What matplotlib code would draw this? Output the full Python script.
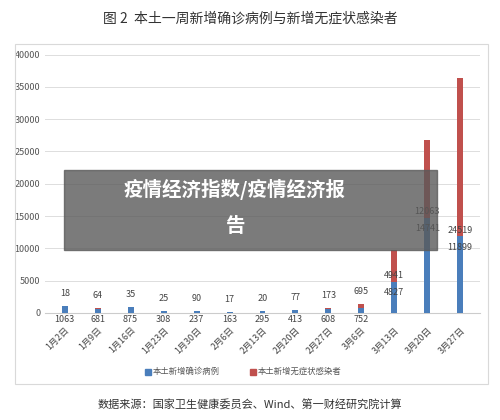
import matplotlib
matplotlib.use("Agg")
import matplotlib.pyplot as plt
from matplotlib.patches import Rectangle

plt.rcParams['font.family'] = ['Noto Sans CJK SC', 'DejaVu Sans']

dates = ["1月2日","1月9日","1月16日","1月23日","1月30日","2月6日","2月13日","2月20日","2月27日","3月6日","3月13日","3月20日","3月27日"]
confirmed = [1063,681,875,308,237,163,295,413,608,752,4827,14741,11899]
asymptomatic = [18,64,35,25,90,17,20,77,173,695,4941,12063,24519]

blue = "#4a7ebb"; red = "#c0504d"
fig = plt.figure(figsize=(5, 4.2), dpi=100)
fig.patch.set_facecolor("white")
ax = fig.add_axes([0.09, 0.255, 0.87, 0.615])
x = list(range(len(dates)))
ax.bar(x, confirmed, width=0.18, color=blue, zorder=3)
ax.bar(x, asymptomatic, width=0.18, bottom=confirmed, color=red, zorder=3)
ax.set_ylim(0, 40000)
ax.set_xlim(-0.6, len(dates) - 0.4)
ax.set_yticks(range(0, 40001, 5000))
ax.tick_params(axis='y', labelsize=6.5, length=0, colors="#555555")
ax.tick_params(axis='x', length=0, labelsize=6.5, colors="#444444", pad=9)
ax.set_xticks(x)
ax.set_xticklabels(dates, rotation=45, ha='right', rotation_mode='anchor')
ax.grid(axis='y', color="#dddddd", lw=0.7, zorder=0)
for s in ["top", "right", "left"]:
    ax.spines[s].set_visible(False)
ax.spines["bottom"].set_color("#cccccc")
for i in x:
    c, a = confirmed[i], asymptomatic[i]
    if i < 10:
        ax.text(i, c + a + 1200, str(a), ha='center', va='bottom', fontsize=6.5, color="#444444")
        ax.text(i, -300, str(c), ha='center', va='top', fontsize=6.5, color="#444444")
    else:
        ax.text(i, c + 200, str(a), ha='center', va='bottom', fontsize=6.5, color="#444444")
        ax.text(i, c - 1000, str(c), ha='center', va='top', fontsize=6.5, color="#444444")

fig.text(0.5, 0.955, "图 2  本土一周新增确诊病例与新增无症状感染者", ha='center', va='center', fontsize=10, color="#333333")
fig.text(0.5, 0.035, "数据来源：国家卫生健康委员会、Wind、第一财经研究院计算", ha='center', va='center', fontsize=8, color="#333333")
fig.add_artist(Rectangle((0.03, 0.085), 0.945, 0.81, transform=fig.transFigure, fill=False, ec="#d9d9d9", lw=0.8))
# legend
fig.add_artist(Rectangle((0.29, 0.108), 0.012, 0.014, transform=fig.transFigure, color=blue))
fig.text(0.305, 0.115, "本土新增确诊病例", fontsize=6, va='center', color="#555555")
fig.add_artist(Rectangle((0.50, 0.108), 0.012, 0.014, transform=fig.transFigure, color=red))
fig.text(0.515, 0.115, "本土新增无症状感染者", fontsize=6, va='center', color="#555555")
# watermark overlay
fig.add_artist(Rectangle((0.128, 0.405), 0.745, 0.19, transform=fig.transFigure, color="#5a5a5a", alpha=0.8, zorder=10))
fig.text(0.47, 0.548, "疫情经济指数/疫情经济报", ha='center', va='center', fontsize=14, weight='bold', color="white", zorder=11)
fig.text(0.47, 0.46, "告", ha='center', va='center', fontsize=14, weight='bold', color="white", zorder=11)
fig.savefig("out.png", dpi=100)
